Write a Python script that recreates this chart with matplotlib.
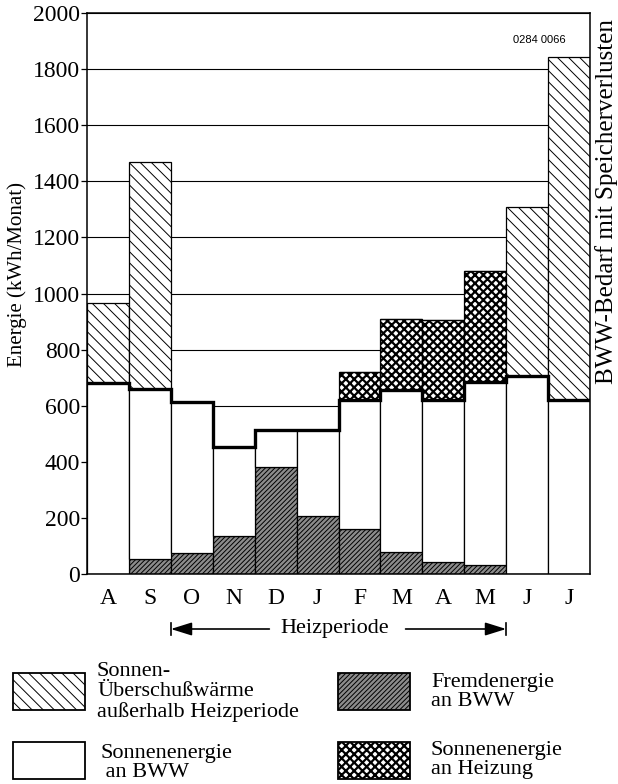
"""Monatliche Energiebilanz einer Solaranlage (BWW + Heizung)."""

import matplotlib.pyplot as plt
import numpy as np
from matplotlib.patches import Rectangle
from matplotlib.transforms import blended_transform_factory

months = ["A", "S", "O", "N", "D", "J", "F", "M", "A", "M", "J", "J"]
fremdenergie = [0, 55, 75, 135, 380, 205, 160, 77, 44, 32, 0, 0]
bww_bedarf = [680, 660, 612, 452, 512, 512, 620, 655, 620, 685, 705, 620]
sonne_heizung = [0, 0, 0, 0, 0, 0, 100, 255, 285, 395, 0, 0]
ueberschuss = [285, 810, 0, 0, 0, 0, 0, 0, 0, 0, 605, 1222]

plt.rcParams["font.family"] = ["Liberation Serif", "DejaVu Serif"]
plt.rcParams["hatch.linewidth"] = 0.7

STYLE_UEBER = dict(facecolor="white", hatch="\\\\\\")
STYLE_BWW = dict(facecolor="white", hatch=None)
STYLE_FREMD = dict(facecolor="#8c8c8c", hatch="///////")
STYLE_HEIZ = dict(facecolor="white", hatch="xxxx")


def set_hatch_lw(artists, lw):
    for a in artists:
        if hasattr(a, "set_hatch_linewidth"):
            a.set_hatch_linewidth(lw)


fig = plt.figure(figsize=(6.18, 7.84), dpi=100)
ax = fig.add_axes([87 / 618, 1 - 574 / 784, 503 / 618, 561 / 784])

x = np.arange(len(months))
fremd = np.array(fremdenergie)
bedarf = np.array(bww_bedarf)
heiz = np.array(sonne_heizung)

common = dict(width=1.0, edgecolor="black", linewidth=0.9, zorder=2)
ax.bar(x, fremd, **STYLE_FREMD, **common)
ax.bar(x, bedarf - fremd, bottom=fremd, **STYLE_BWW, **common)
heiz_bars = ax.bar(x, heiz, bottom=bedarf, **STYLE_HEIZ, **common)
set_hatch_lw(heiz_bars, 1.6)
ax.bar(x, ueberschuss, bottom=bedarf + heiz, **STYLE_UEBER, **common)

# BWW-Bedarf mit Speicherverlusten
ax.stairs(bedarf, np.arange(len(months) + 1) - 0.5, baseline=None,
          color="black", linewidth=2.4, zorder=3)

ax.set_xlim(-0.5, len(months) - 0.5)
ax.set_ylim(0, 2000)
ax.set_yticks(range(0, 2001, 200))
ax.set_xticks(x, months)
ax.grid(axis="y", color="black", linewidth=0.8)
ax.set_axisbelow(True)
for s in ax.spines.values():
    s.set_linewidth(1.1)
ax.tick_params(axis="x", length=0, pad=10, labelsize=17)
ax.tick_params(axis="y", length=4, width=0.9, pad=1, labelsize=17)

fig.text(17 / 618, 1 - 275 / 784, "Energie (kWh/Monat)", rotation=90,
         ha="center", va="center", fontsize=15)
fig.text(607 / 618, 1 - 202 / 784, "BWW-Bedarf mit Speicherverlusten",
         rotation=90, ha="center", va="center", fontsize=18)
ax.text(0.9, 0.952, "0284 0066", transform=ax.transAxes, ha="center",
        va="center", fontsize=8, family="Liberation Sans")

# Heizperiode (Oktober bis Mai)
tr = blended_transform_factory(ax.transData, fig.transFigure)
y_arr = 1 - 629 / 784
start, end = 1.5, 9.5
arrow = dict(arrowstyle="-|>,head_length=0.8,head_width=0.25", color="black",
             lw=1.2, mutation_scale=16, shrinkA=0, shrinkB=0)
ax.annotate("", xy=(start, y_arr), xytext=(3.85, y_arr), xycoords=tr,
            textcoords=tr, arrowprops=arrow, annotation_clip=False)
ax.annotate("", xy=(end, y_arr), xytext=(7.1, y_arr), xycoords=tr,
            textcoords=tr, arrowprops=arrow, annotation_clip=False)
for xe in (start, end):
    ax.plot([xe, xe], [y_arr - 0.008, y_arr + 0.008], transform=tr,
            color="black", lw=1.2, clip_on=False)
ax.text(5.4, y_arr, "Heizperiode", transform=tr, ha="center", va="center",
        fontsize=16)

# Legende
lax = fig.add_axes([0, 0, 1, 1], zorder=-1)
lax.set_xlim(0, 618)
lax.set_ylim(784, 0)
lax.axis("off")
entries = [
    (13, 673, STYLE_UEBER, 97, 692, "Sonnen-\nÜberschußwärme\naußerhalb Heizperiode"),
    (13, 742, STYLE_BWW, 100, 763, "Sonnenenergie\n an BWW"),
    (338, 673, STYLE_FREMD, 431, 692, "Fremdenergie\nan BWW"),
    (338, 742, STYLE_HEIZ, 431, 760, "Sonnenenergie\nan Heizung"),
]
for px, py, style, tx, ty, label in entries:
    r = Rectangle((px, py), 72, 37, edgecolor="black", linewidth=1.3, **style)
    lax.add_patch(r)
    if style is STYLE_HEIZ:
        set_hatch_lw([r], 1.6)
    lax.text(tx, ty, label, ha="left", va="center", fontsize=16,
             linespacing=1.05)

fig.savefig("out.png", dpi=100)
